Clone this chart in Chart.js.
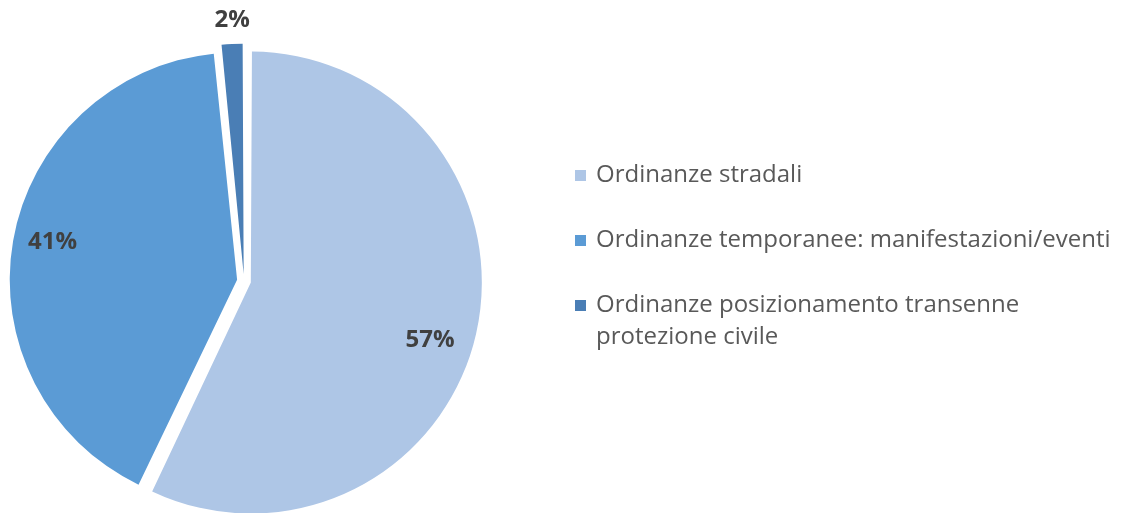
<!DOCTYPE html>
<html>
<head>
<meta charset="utf-8">
<script src="https://cdn.jsdelivr.net/npm/chart.js@4.4.1/dist/chart.umd.min.js"></script>
<style>
  html, body { margin: 0; padding: 0; background: #ffffff; overflow: hidden; }
  #wrap { position: relative; width: 1128px; height: 513px; }
</style>
</head>
<body>
<div id="wrap"><canvas id="c" width="1128" height="513"></canvas></div>
<script>
// ---- data ----
const categories = [
  "Ordinanze stradali",
  "Ordinanze temporanee: manifestazioni/eventi",
  "Ordinanze posizionamento transenne protezione civile"
];
const legendLines = [
  ["Ordinanze stradali"],
  ["Ordinanze temporanee: manifestazioni/eventi"],
  ["Ordinanze posizionamento transenne", "protezione civile"]
];
const values = [57.1, 41.3, 1.6];
const colors = ["#AEC6E6", "#5B9BD5", "#4A7EB5"];

const total = values.reduce((a, b) => a + b, 0);

const pctLabels = {
  id: 'pctLabels',
  afterDatasetsDraw(chart, args, opts) {
    const ctx = chart.ctx;
    const meta = chart.getDatasetMeta(0);
    ctx.save();
    ctx.font = 'bold 24px "Open Sans", Lato, sans-serif';
    ctx.fillStyle = '#404040';
    ctx.textAlign = 'center';
    ctx.textBaseline = 'middle';
    meta.data.forEach((arc, i) => {
      const p = arc.getProps(['x', 'y', 'startAngle', 'endAngle', 'outerRadius'], true);
      const off = chart.data.datasets[0].offset / 4;
      const r = p.outerRadius + off;
      const mid = (p.startAngle + p.endAngle) / 2;
      const vx = p.x + Math.cos(mid) * off;
      const vy = p.y + Math.sin(mid) * off;
      const frac = values[i] / total;
      const a = mid + (opts.nudge[i] || 0) * Math.PI / 180;
      const d = frac < 0.05 ? r + 23 : r * 0.815;
      const txt = Math.round(values[i] * 100 / total) + '%';
      ctx.fillText(txt, vx + Math.cos(a) * d, vy + Math.sin(a) * d);
    });
    ctx.restore();
  }
};

const sideLegend = {
  id: 'sideLegend',
  afterDraw(chart, args, opts) {
    const ctx = chart.ctx;
    ctx.save();
    ctx.font = '24px "Open Sans", Lato, sans-serif';
    ctx.textAlign = 'left';
    ctx.textBaseline = 'alphabetic';
    let base = opts.firstBaseline;
    legendLines.forEach((lines, i) => {
      ctx.fillStyle = colors[i];
      ctx.fillRect(opts.x, base - 12, 11, 11);
      ctx.fillStyle = '#595959';
      lines.forEach((ln, j) => {
        ctx.fillText(ln, opts.x + 21, base + j * opts.lineHeight);
      });
      base += opts.itemGap;
    });
    ctx.restore();
  }
};

new Chart(document.getElementById('c'), {
  type: 'pie',
  data: {
    labels: categories,
    datasets: [{
      data: values,
      backgroundColor: colors,
      borderWidth: 0,
      offset: 28,
      hoverOffset: 0,
      clip: false
    }]
  },
  options: {
    responsive: false,
    animation: false,
    radius: 224,
    layout: { padding: { left: 0, right: 640, top: 49, bottom: 0 } },
    plugins: {
      legend: { display: false },
      tooltip: { enabled: false },
      pctLabels: { nudge: [5, 1.5, 0.3] },
      sideLegend: { x: 575, firstBaseline: 182, itemGap: 65, lineHeight: 32 }
    }
  },
  plugins: [pctLabels, sideLegend]
});
</script>
</body>
</html>
